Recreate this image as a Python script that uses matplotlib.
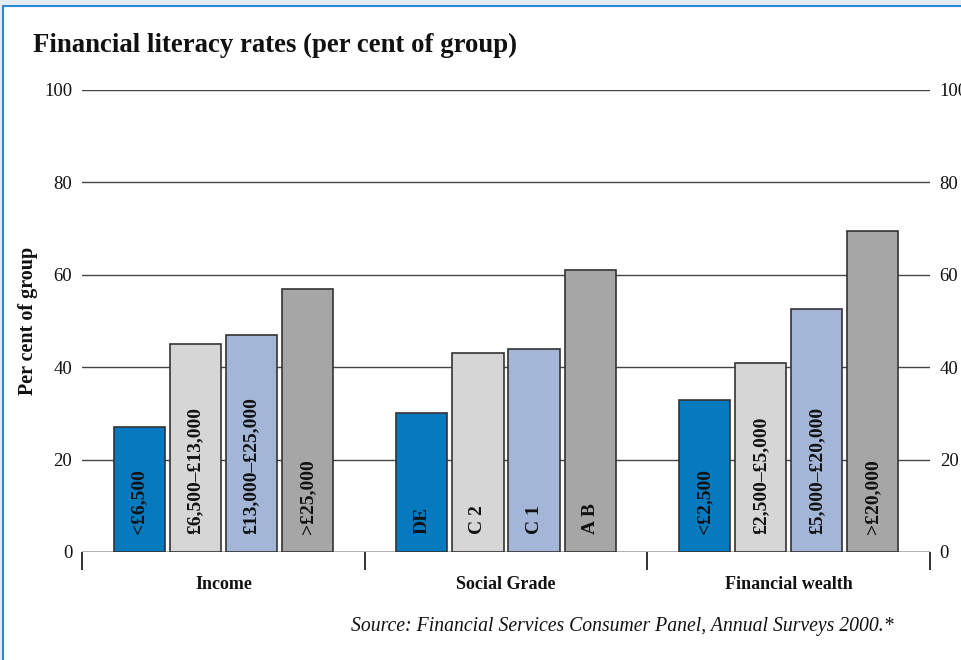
import matplotlib
matplotlib.use("Agg")
import matplotlib.pyplot as plt
from matplotlib.patches import Rectangle
import numpy as np

groups = ["Income", "Social Grade", "Financial wealth"]
bar_labels = [
    ["<£6,500", "£6,500–£13,000", "£13,000–£25,000", ">£25,000"],
    ["DE", "C 2", "C 1", "A B"],
    ["<£2,500", "£2,500–£5,000", "£5,000–£20,000", ">£20,000"],
]
values = [
    [27, 45, 47, 57],
    [30, 43, 44, 61],
    [33, 41, 52.5, 69.5],
]
yticks = [0, 20, 40, 60, 80, 100]
colors = ["#0779be", "#d6d6d6", "#a3b6d7", "#a6a6a6"]

serif = ["Liberation Serif", "DejaVu Serif"]
plt.rcParams["font.family"] = serif

fig = plt.figure(figsize=(9.61, 6.60), dpi=100)
fig.patch.set_facecolor("#e6ecf5")
# white panel with blue border
panel = Rectangle((3 / 961, -0.1), 1.2, (660 - 6) / 660 + 0.1, transform=fig.transFigure,
                  facecolor="white", edgecolor="#2a8ad8", linewidth=1.5, zorder=-5)
fig.patches.append(panel)

ax = fig.add_axes([82 / 961, 108 / 660, 848 / 961, 462 / 660])
ax.set_zorder(2)
ax.set_facecolor("none")
ax.set_xlim(-0.5, 2.5)
ax.set_ylim(0, 100)

step = 0.1986
width = 0.181
for gi, (vals, labs) in enumerate(zip(values, bar_labels)):
    for bi, (v, lab) in enumerate(zip(vals, labs)):
        x = gi + (bi - 1.5) * step
        ax.bar(x, v, width=width, color=colors[bi], edgecolor="#333333",
               linewidth=1.2, zorder=3)
        ax.text(x, 4.0, lab, rotation=90, ha="center", va="bottom",
                fontsize=14, fontweight="bold", color="#111111", zorder=4)

for y in yticks[1:]:
    ax.axhline(y, color="#444444", linewidth=1.0, zorder=1)
ax.axhline(0, color="#aaaaaa", linewidth=2.0, zorder=1)

for s in ax.spines.values():
    s.set_visible(False)

ax.set_yticks(yticks)
ax.set_yticklabels([str(t) for t in yticks])
ax.tick_params(axis="y", length=0, pad=7, labelsize=13.5, labelcolor="#111111",
               left=False, right=False, labelleft=True, labelright=True)
ax.set_xticks([-0.5, 0.5, 1.5, 2.5])
ax.set_xticklabels([])
ax.tick_params(axis="x", length=13, width=1.2, color="#111111", direction="out")

for gi, g in enumerate(groups):
    ax.text(gi, -5.3, g, ha="center", va="top", fontsize=13, fontweight="bold",
            color="#111111")

ax.set_ylabel("Per cent of group", fontsize=14.5, fontweight="bold",
              color="#111111")
ax.yaxis.set_label_coords(-0.052, 0.5)

fig.text(33 / 961, 1 - 45 / 660, "Financial literacy rates (per cent of group)",
         fontsize=19.3, fontweight="bold", ha="left", va="center", color="#111111")
fig.text(622 / 961, 1 - 627 / 660,
         "Source: Financial Services Consumer Panel, Annual Surveys 2000.*",
         fontsize=14.2, style="italic", ha="center", va="center", color="#111111")

fig.savefig("out.png", dpi=100, facecolor=fig.get_facecolor())
